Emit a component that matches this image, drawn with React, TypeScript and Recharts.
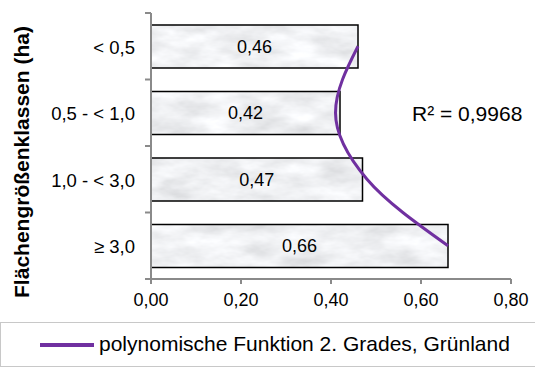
import React from "react";
import {
  ComposedChart,
  Bar,
  Line,
  XAxis,
  YAxis,
  LabelList,
} from "recharts";

const categories = ["< 0,5", "0,5 - < 1,0", "1,0 - < 3,0", "≥ 3,0"];
const values = [0.46, 0.42, 0.47, 0.66];
// trendline (polynomial, 2nd order) at each class
const trend = [0.46, 0.41, 0.48, 0.66];
const xTicks = [0, 0.2, 0.4, 0.6, 0.8];

const data = categories.map((name, i) => ({
  name,
  value: values[i],
  trend: trend[i],
}));

const font = "'Liberation Sans', Arial, sans-serif";
const axisColor = "#8a8a8a";
const purple = "#7030a0";
const halfBand = 33.25;

const fmt = (v: number) => v.toFixed(2).replace(".", ",");

const CatTick = (props: any) => {
  const { x, y, payload, index, visibleTicksCount } = props;
  const last = index === visibleTicksCount - 1;
  return (
    <g>
      <text
        x={x}
        y={y + 1}
        textAnchor="end"
        dominantBaseline="central"
        fontSize={18.5}
        fontFamily={font}
        fill="#000"
      >
        {payload.value}
      </text>
      <line x1={x + 10} x2={x + 16} y1={y - halfBand} y2={y - halfBand} stroke={axisColor} strokeWidth={2} />
      {last && (
        <line x1={x + 10} x2={x + 16} y1={y + halfBand} y2={y + halfBand} stroke={axisColor} strokeWidth={2} />
      )}
    </g>
  );
};

const App = () => {
  return (
    <div style={{ position: "absolute", left: 0, top: 0, width: 535, height: 367, overflow: "hidden", background: "#fff", fontFamily: font }}>
      <ComposedChart
        width={535}
        height={367}
        data={data}
        layout="vertical"
        barCategoryGap="18%"
        margin={{ top: 13, right: 24, left: 0, bottom: 0 }}
      >
        <defs>
          <filter id="marbleNoise" x="0" y="0" width="100%" height="100%" filterUnits="userSpaceOnUse">
            <feTurbulence type="fractalNoise" baseFrequency="0.025 0.06" numOctaves="4" seed="7" />
            <feColorMatrix
              type="matrix"
              values="0.45 0 0 0 0.64  0.45 0 0 0 0.65  0.45 0 0 0 0.67  0 0 0 0 1"
            />
          </filter>
          <pattern id="marble" patternUnits="userSpaceOnUse" x="0" y="0" width="535" height="367">
            <rect x="0" y="0" width="535" height="367" fill="#e2e4e6" filter="url(#marbleNoise)" />
          </pattern>
        </defs>
        <XAxis
          type="number"
          domain={[0, 0.8]}
          ticks={xTicks}
          tickFormatter={fmt}
          height={88}
          stroke={axisColor}
          strokeWidth={2}
          tickSize={5}
          tickMargin={9}
          tick={{ fontSize: 18, fill: "#000", fontFamily: font }}
        />
        <YAxis
          type="category"
          dataKey="name"
          width={151}
          stroke={axisColor}
          strokeWidth={2}
          tickLine={false}
          tickSize={0}
          tickMargin={16}
          tick={<CatTick />}
          label={{
            content: () => (
              <text
                x={21}
                y={162}
                transform="rotate(-90 21 162)"
                textAnchor="middle"
                dominantBaseline="central"
                fontSize={21}
                fontWeight="bold"
                fontFamily={font}
                fill="#000"
              >
                Flächengrößenklassen (ha)
              </text>
            ),
          }}
        />
        <Bar dataKey="value" fill="url(#marble)" stroke="#000" strokeWidth={1.5} isAnimationActive={false}>
          <LabelList
            dataKey="value"
            position="center"
            formatter={(v: any) => fmt(Number(v))}
            style={{ fontSize: 18, fill: "#000", fontFamily: font }}
          />
        </Bar>
        <Line
          dataKey="trend"
          type="monotone"
          stroke={purple}
          strokeWidth={3}
          dot={false}
          activeDot={false}
          isAnimationActive={false}
        />
      </ComposedChart>
      <div style={{ position: "absolute", left: 412, top: 101, fontSize: 21, lineHeight: "26px", color: "#000", whiteSpace: "nowrap" }}>
        R² = 0,9968
      </div>
      <div
        style={{
          position: "absolute",
          left: 0,
          top: 322,
          width: 540,
          height: 45,
          border: "1px solid #c8c8c8",
          boxSizing: "border-box",
        }}
      >
        <div style={{ position: "absolute", left: 39, top: 20, width: 54, height: 3.5, background: purple }} />
        <div style={{ position: "absolute", left: 98, top: 8, fontSize: 21, lineHeight: "26px", color: "#000", whiteSpace: "nowrap" }}>
          polynomische Funktion 2. Grades, Grünland
        </div>
      </div>
    </div>
  );
};

export default App;
